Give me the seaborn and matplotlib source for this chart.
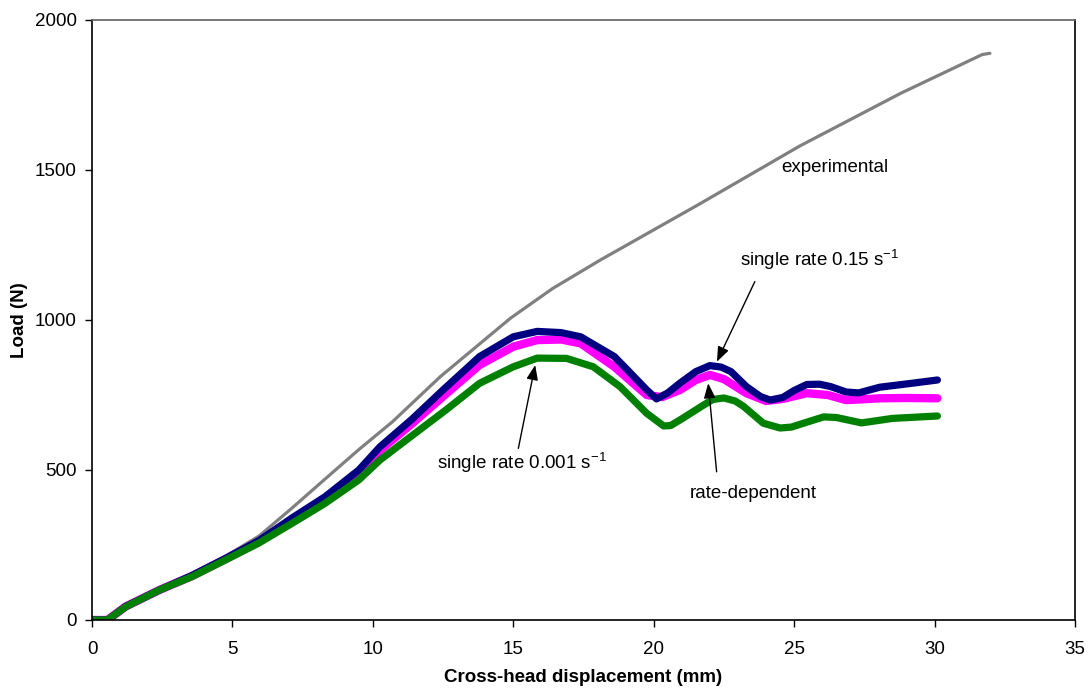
import matplotlib
matplotlib.use("Agg")
import matplotlib.pyplot as plt
import seaborn as sns
import pandas as pd

# values (displacement in mm, load in N)
exp_x = [0, 0.5, 1.2, 2.4, 3.55, 4.75, 5.95, 7.12, 8.3, 9.5, 10.7, 12.4, 14.9, 16.4,
         18.1, 21.6, 25.2, 28.8, 31.7, 31.97]
exp_y = [0, 0, 45, 100, 152, 212, 280, 373, 470, 568, 661, 811, 1006, 1105,
         1200, 1385, 1580, 1756, 1885, 1889]

fast_x = [0, 0.55, 1.2, 2.4, 3.55, 4.75, 5.95, 7.12, 8.3, 9.5, 10.25, 11.4, 12.5,
          13.8, 15.0, 15.85, 16.7, 17.4, 18.6, 19.1, 19.75, 20.1, 20.5, 20.94, 21.5,
          22.0, 22.4, 22.75, 23.3, 23.8, 24.15, 24.6, 25.0, 25.45, 25.9, 26.3, 26.85,
          27.3, 28.05, 29.1, 30.1]
fast_y = [0, 0, 45, 100, 148, 205, 265, 340, 411, 500, 577, 670, 767,
          878, 944, 962, 958, 944, 878, 830, 767, 737, 757, 790, 828,
          848, 843, 828, 778, 745, 733, 742, 765, 785, 786, 778, 760,
          757, 776, 788, 800]

rate_x = [0, 0.55, 1.2, 2.4, 3.55, 4.75, 5.95, 7.12, 8.3, 9.5, 10.25, 11.4, 12.5,
          13.8, 15.0, 15.85, 16.7, 17.4, 18.6, 19.75, 20.3, 20.94, 21.5, 22.0, 22.5,
          23.3, 24.0, 24.6, 25.45, 26.2, 26.85, 27.5, 28.05, 29.0, 30.1]
rate_y = [0, 0, 45, 100, 146, 203, 262, 334, 405, 492, 565, 655, 745,
          850, 911, 933, 935, 922, 844, 750, 743, 767, 800, 817, 803,
          756, 730, 737, 756, 750, 733, 736, 739, 740, 739]

slow_x = [0, 0.55, 1.2, 2.4, 3.55, 4.75, 5.93, 7.12, 8.3, 9.5, 10.25, 11.4, 12.6,
          13.8, 15.0, 15.85, 16.9, 17.85, 18.8, 19.75, 20.35, 20.6, 20.94, 21.7,
          22.1, 22.5, 22.9, 23.2, 23.9, 24.5, 24.9, 25.2, 26.05, 26.5, 26.9, 27.4,
          28.5, 30.1]
slow_y = [0, 0, 44, 100, 144, 200, 256, 322, 389, 467, 533, 615, 700,
          789, 844, 873, 872, 844, 778, 689, 647, 648, 667, 712,
          735, 740, 730, 712, 656, 640, 643, 652, 677, 675, 667, 657,
          672, 680]

x_ticks = [0, 5, 10, 15, 20, 25, 30, 35]
y_ticks = [0, 500, 1000, 1500, 2000]

sns.set_style("white")
plt.rcParams["font.family"] = ["Liberation Sans", "DejaVu Sans"]
plt.rcParams["mathtext.default"] = "regular"
plt.rcParams["text.color"] = "black"
plt.rcParams["axes.labelcolor"] = "black"
plt.rcParams["xtick.color"] = "black"
plt.rcParams["ytick.color"] = "black"

fig = plt.figure(figsize=(10.9, 6.9), dpi=100)
ax = fig.add_axes([92 / 1090, 70 / 690, 983 / 1090, 600 / 690])

exp_df = pd.DataFrame({"x": exp_x, "y": exp_y})
fast_df = pd.DataFrame({"x": fast_x, "y": fast_y})
rate_df = pd.DataFrame({"x": rate_x, "y": rate_y})
slow_df = pd.DataFrame({"x": slow_x, "y": slow_y})

line_kw = dict(sort=False, solid_joinstyle="round")
sns.lineplot(data=exp_df, x="x", y="y", ax=ax, color="#808080", lw=2.3, **line_kw)
sns.lineplot(data=rate_df, x="x", y="y", ax=ax, color="#ff00ff", lw=6, **line_kw)
sns.lineplot(data=fast_df, x="x", y="y", ax=ax, color="#000080", lw=5.2, **line_kw)
sns.lineplot(data=slow_df, x="x", y="y", ax=ax, color="#008000", lw=5.2, **line_kw)

ax.set_xlim(0, 35)
ax.set_ylim(0, 2000)
ax.set_xticks(x_ticks)
ax.set_yticks(y_ticks)
ax.tick_params(axis="both", direction="out", length=5, width=1,
               labelsize=13.5, bottom=True, left=True)
ax.tick_params(axis="x", pad=10)
ax.tick_params(axis="y", pad=6)
for side in ["left", "bottom", "right"]:
    ax.spines[side].set_color("black")
    ax.spines[side].set_linewidth(1.2)
ax.spines["top"].set_color("#606060")
ax.spines["top"].set_linewidth(1.2)

ax.set_xlabel("Cross-head displacement (mm)", fontsize=13.5, fontweight="bold", labelpad=8)
ax.set_ylabel("Load (N)", fontsize=13.5, fontweight="bold", labelpad=5)

arrow = dict(arrowstyle="-|>,head_length=0.9,head_width=0.35", color="black",
             lw=1, shrinkA=0, shrinkB=0)
ax.text(24.55, 1510, "experimental", fontsize=13.5, va="center", ha="left")
ax.text(23.07, 1200, "single rate 0.15 s$^{-1}$", fontsize=13.5, va="center", ha="left")
ax.annotate("", xy=(22.25, 861), xytext=(23.6, 1128), arrowprops=arrow)
ax.text(12.28, 523, "single rate 0.001 s$^{-1}$", fontsize=13.5, va="center", ha="left")
ax.annotate("", xy=(15.78, 850), xytext=(15.18, 572), arrowprops=arrow)
ax.text(21.29, 423, "rate-dependent", fontsize=13.5, va="center", ha="left")
ax.annotate("", xy=(21.94, 789), xytext=(22.24, 494), arrowprops=arrow)

fig.savefig("out.png", dpi=100)
plt.close(fig)
